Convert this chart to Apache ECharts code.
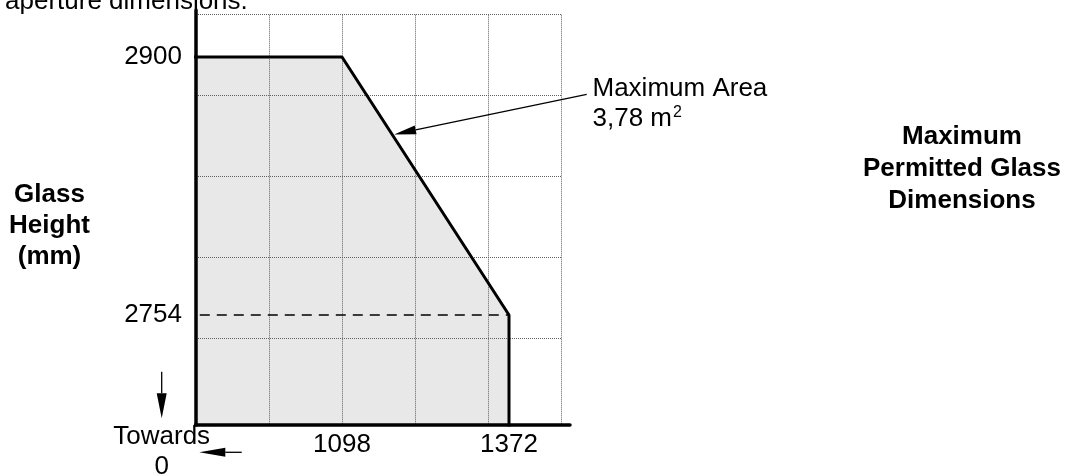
<!DOCTYPE html>
<html><head><meta charset="utf-8">
<script src="https://cdn.jsdelivr.net/npm/echarts@6/dist/echarts.min.js"></script>
<style>html,body{margin:0;padding:0;background:#fff}#c{width:1071px;height:475px}</style>
</head><body><div id="c"></div>
<script>
// ---- data ----
const widthTicks = [1098, 1372];          // glass width tick labels (mm)
const heightTicks = [2900, 2754];         // glass height tick labels (mm)
const shapeWidths = [0, 1098, 1372, 1372];   // outline of permitted region (towards 0 on the left)
const shapeHeights = [2900, 2900, 2754, 0];
const dashWidths = [0, 1372];
const dashHeights = [2754, 2754];
const xRange = [858.45, 1457.32];         // visible width window (mm)
const yRange = [2691.75, 2923.94];        // visible height window (mm)
const gridCols = 5, gridRowsShown = 4;

const FONT = '"Liberation Sans", Arial, Helvetica, sans-serif';
const shape = shapeWidths.map((w, i) => [w, shapeHeights[i]]);
const dash = dashWidths.map((w, i) => [w, dashHeights[i]]);

const chart = echarts.init(document.getElementById('c'), null, {renderer: 'canvas'});
const hidden = {axisLine: {show: false}, axisTick: {show: false}, axisLabel: {show: false}, splitLine: {show: false}};
const dotted = {show: true, lineStyle: {color: '#606060', width: 1, type: [1, 1]}};

chart.setOption({
  animation: false,
  backgroundColor: '#fff',
  grid: [
    {left: 196, top: 14.7, width: 365, height: 410.3},
    {left: 196, top: 14.7, width: 365, height: 323.3},
    {left: 195.5, top: 10, width: 374.5, height: 415}
  ],
  xAxis: [
    {gridIndex: 0, type: 'value', min: xRange[0], max: xRange[1], axisLine: {show: false}, axisTick: {show: false}, splitLine: {show: false},
      axisLabel: {customValues: widthTicks, formatter: v => String(v), fontSize: 26, color: '#000', fontFamily: FONT, margin: 7}},
    Object.assign({gridIndex: 0, type: 'value', min: 0, max: gridCols, interval: 1, z: 3}, hidden, {splitLine: dotted}),
    Object.assign({gridIndex: 1, type: 'value', min: 0, max: 1}, hidden),
    Object.assign({gridIndex: 2, type: 'value', min: 0, max: 1, z: 6}, hidden, {axisLine: {show: true, onZero: false, lineStyle: {color: '#000', width: 3.5}}})
  ],
  yAxis: [
    {gridIndex: 0, type: 'value', min: yRange[0], max: yRange[1], axisLine: {show: false}, axisTick: {show: false}, splitLine: {show: false},
      axisLabel: {customValues: heightTicks, formatter: v => String(v), fontSize: 26, color: '#000', fontFamily: FONT, margin: 14}},
    Object.assign({gridIndex: 0, type: 'value', min: 0, max: 1}, hidden),
    Object.assign({gridIndex: 1, type: 'value', min: 0, max: gridRowsShown, interval: 1, z: 3}, hidden, {splitLine: dotted}),
    Object.assign({gridIndex: 2, type: 'value', min: 0, max: 1, z: 6}, hidden, {axisLine: {show: true, onZero: false, lineStyle: {color: '#000', width: 3.5}}})
  ],
  series: [
    {type: 'line', xAxisIndex: 0, yAxisIndex: 0, data: shape, symbol: 'none', clip: true, z: 1,
      lineStyle: {width: 0, opacity: 0}, areaStyle: {color: '#e8e8e8', opacity: 1}, silent: true},
    {type: 'line', xAxisIndex: 0, yAxisIndex: 0, data: shape, symbol: 'none', clip: true, z: 5,
      lineStyle: {color: '#000', width: 3}, silent: true},
    {type: 'line', xAxisIndex: 0, yAxisIndex: 0, data: dash, symbol: 'none', clip: true, z: 5,
      lineStyle: {color: '#000', width: 1.6, type: [10, 7]}, silent: true}
  ]
});

function arrow(x1, y1, x2, y2, headLen, headHalf, lw) {
  const dx = x2 - x1, dy = y2 - y1, L = Math.hypot(dx, dy);
  const ux = dx / L, uy = dy / L, px = -uy, py = ux;
  const bx = x2 - ux * headLen, by = y2 - uy * headLen;
  return [
    {type: 'line', z: 20, shape: {x1: x1, y1: y1, x2: bx, y2: by}, style: {stroke: '#000', lineWidth: lw}},
    {type: 'polygon', z: 20, shape: {points: [[x2, y2], [bx + px * headHalf, by + py * headHalf], [bx - px * headHalf, by - py * headHalf]]}, style: {fill: '#000'}}
  ];
}

// annotation target: a point along the sloped edge (1098,2900)-(1372,2754)
const t = 0.3;
const tip = chart.convertToPixel({xAxisIndex: 0, yAxisIndex: 0},
  [shapeWidths[1] + t * (shapeWidths[2] - shapeWidths[1]), shapeHeights[1] + t * (shapeHeights[2] - shapeHeights[1])]);

const txt = (text, x, y, opts) => ({type: 'text', z: 20, style: Object.assign({text: text, x: x, y: y, fill: '#000', fontSize: 26, fontFamily: FONT, align: 'center', verticalAlign: 'middle'}, opts || {})});

chart.setOption({
  graphic: [
    txt('aperture dimensions.', 5, 1.5, {align: 'left'}),
    txt('Glass\nHeight\n(mm)', 49.5, 226, {fontWeight: 'bold', lineHeight: 31}),
    txt('Maximum\nPermitted Glass\nDimensions', 962, 168.5, {fontWeight: 'bold', lineHeight: 32}),
    txt('Maximum Area', 592.5, 89.3, {align: 'left'}),
    txt('{a|3,78 m}{s|2}', 592.5, 119.3, {align: 'left', rich: {
      a: {fontSize: 26, fontFamily: FONT, lineHeight: 30},
      s: {fontSize: 16, fontFamily: FONT, verticalAlign: 'top', lineHeight: 30, padding: [0, 0, 14, 1]}
    }}),
    txt('Towards\n0', 161.7, 452, {lineHeight: 29.5})
  ].concat(
    arrow(586.7, 94.3, tip[0] + 2, tip[1], 22, 4.5, 1.3),
    arrow(161.7, 371.7, 161.7, 418.3, 25, 5, 1.3),
    arrow(241.7, 452.3, 199.3, 452.3, 26, 4.5, 1.3)
  )
});
</script></body></html>
